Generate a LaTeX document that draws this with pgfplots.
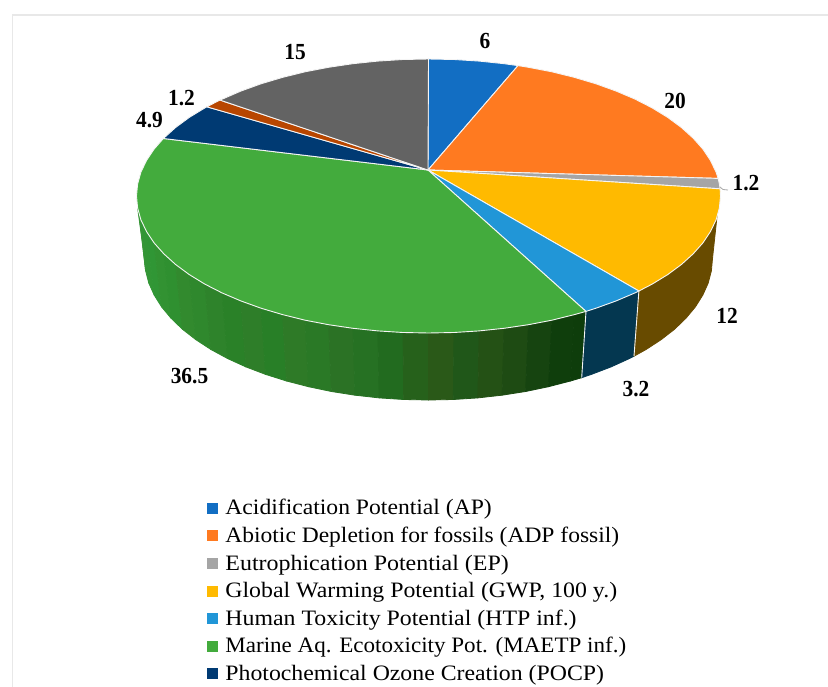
\documentclass[border=0pt]{standalone}
\usepackage{graphicx}
\usepackage{pgfplots}
\pgfplotsset{compat=1.18}
\usepackage{fontspec}
\setmainfont{Liberation Serif}
\newfontfamily\lab[FakeStretch=0.93]{Liberation Serif}
\newfontfamily\leg[FakeStretch=1.05]{Liberation Serif}
\definecolor{cAP}{RGB}{18,110,195}
\definecolor{cADP}{RGB}{255,122,32}
\definecolor{cEP}{RGB}{165,165,165}
\definecolor{cGWP}{RGB}{255,186,0}
\definecolor{cHTP}{RGB}{33,150,215}
\definecolor{cMAE}{RGB}{67,171,61}
\definecolor{cPOC}{RGB}{0,58,115}
\definecolor{cBRN}{RGB}{184,70,0}
\definecolor{cGRY}{RGB}{99,99,99}
\definecolor{cEDGE}{RGB}{245,245,245}
\newcommand\wall[4]{\addplot[fill={rgb,255:red,#1;green,#2;blue,#3},draw={rgb,255:red,#1;green,#2;blue,#3},line width=0.8pt,line join=round,forget plot] coordinates {#4} --cycle;}
\newcommand\slice[2]{\addplot[fill=#1,draw=cEDGE,line width=0.9pt,line join=round,forget plot] coordinates {#2} --cycle;}
\tikzset{vlab/.style={font=\fontsize{23}{23}\bfseries\lab,anchor=center}}
\begin{document}
\begin{tikzpicture}
\useasboundingbox (0,0) rectangle (828pt,687pt);
\begin{axis}[
  at={(0,0)},anchor=south west,
  width=828pt,height=687pt,scale only axis,
  xmin=0,xmax=828,ymin=0,ymax=687,y dir=reverse,
  hide axis,
  legend cell align=left,
  legend image code/.code={\fill[#1] (0pt,2pt) rectangle (10pt,12pt);\path (18.3pt,0pt);},
  legend style={at={(axis cs:206.7,498.4)},anchor=north west,draw=none,fill=none,
    font=\fontsize{22}{22}\leg,inner sep=0pt,outer sep=0pt,row sep=0pt,column sep=0pt,
    nodes={inner sep=0pt,outer sep=0pt,text height=16.5pt,text depth=11.1pt,anchor=base west}},
]
% frame
\addplot[draw={rgb,255:red,232;green,232;blue,232},line width=1.5pt,forget plot] coordinates {(12.5,687)(12.5,15)(828,15)};
% side walls
\wall{58}{150}{58}{(137.6,207.9)(139,214)(145.6,270.8)(144.5,258.5)}
\wall{54}{149}{55}{(139,214)(140.9,219.8)(148.8,283.1)(145.6,270.8)}
\wall{50}{150}{53}{(140.9,219.8)(146.5,231.5)(154.2,295.1)(148.8,283.1)}
\wall{48}{150}{53}{(146.5,231.5)(154.1,242.9)(161.6,306.9)(154.2,295.1)}
\wall{50}{146}{50}{(154.1,242.9)(163.9,253.9)(171.1,318.3)(161.6,306.9)}
\wall{47}{144}{48}{(163.9,253.9)(175.6,264.5)(182.5,329.3)(171.1,318.3)}
\wall{50}{138}{46}{(175.6,264.5)(189.3,274.6)(195.9,339.7)(182.5,329.3)}
\wall{47}{136}{45}{(189.3,274.6)(204.8,284.1)(210.9,349.5)(195.9,339.7)}
\wall{46}{131}{43}{(204.8,284.1)(222,292.9)(227.7,358.6)(210.9,349.5)}
\wall{42}{129}{40}{(222,292.9)(240.8,300.9)(245.9,366.9)(227.7,358.6)}
\wall{46}{126}{41}{(240.8,300.9)(261,308.2)(265.6,374.4)(245.9,366.9)}
\wall{40}{127}{39}{(261,308.2)(282.5,314.6)(286.5,381)(265.6,374.4)}
\wall{46}{122}{39}{(282.5,314.6)(305.1,320.2)(308.5,386.7)(286.5,381)}
\wall{42}{121}{38}{(305.1,320.2)(328.6,324.7)(331.4,391.5)(308.5,386.7)}
\wall{43}{114}{37}{(328.6,324.7)(352.9,328.3)(355,395.2)(331.4,391.5)}
\wall{38}{113}{35}{(352.9,328.3)(377.8,330.9)(379.2,397.9)(355,395.2)}
\wall{34}{107}{31}{(377.8,330.9)(403,332.5)(403.7,399.5)(379.2,397.9)}
\wall{38}{97}{27}{(403,332.5)(428.5,333)(428.5,400)(403.7,399.5)}
\wall{42}{89}{24}{(428.5,333)(454,332.5)(453.3,399.5)(428.5,400)}
\wall{32}{87}{25}{(454,332.5)(479.2,330.9)(477.8,397.9)(453.3,399.5)}
\wall{36}{81}{21}{(479.2,330.9)(504.1,328.3)(502,395.2)(477.8,397.9)}
\wall{30}{75}{19}{(504.1,328.3)(528.4,324.7)(525.6,391.5)(502,395.2)}
\wall{22}{68}{16}{(528.4,324.7)(551.9,320.2)(548.5,386.7)(525.6,391.5)}
\wall{15}{62}{12}{(551.9,320.2)(574.5,314.6)(570.5,381)(548.5,386.7)}
\wall{14}{61}{11}{(574.5,314.6)(586,311.4)(581.7,377.7)(570.5,381)}
% HTP wall
\wall{4}{55}{80}{(586,311.4)(596,308.2)(616.2,300.9)(635,292.9)(638.9,291)(634,356.2)(629.3,358.6)(611.1,366.9)(591.4,374.4)(581.7,377.7)}
% GWP wall
\wall{104}{75}{0}{(638.9,291)(652.2,284.1)(667.7,274.6)(681.4,264.5)(693.1,253.9)(702.9,242.9)(710.5,231.5)(716.1,219.8)(717.5,212)(712.5,258.5)(711.4,270.8)(708.2,283.1)(702.8,295.1)(695.4,306.9)(685.9,318.3)(674.5,329.3)(661.1,339.7)(646.1,349.5)(634,356.2)}
% wall dividers
\addplot[draw=cEDGE,line width=0.9pt,forget plot] coordinates {(638.9,291)(634,356.2)};
\addplot[draw=cEDGE,line width=0.9pt,forget plot] coordinates {(586,311.4)(581.7,377.7)};
% top slices
\slice{cAP}{(428,170)(428.5,59)(454,59.5)(479.2,61.1)(504.1,63.7)(518,65.6)}
\slice{cADP}{(428,170)(518,65.6)(528.4,67.3)(551.9,71.8)(574.5,77.4)(596,83.8)(616.2,91.1)(635,99.1)(652.2,107.9)(667.7,117.4)(681.4,127.5)(693.1,138.1)(702.9,149.1)(710.5,160.5)(716.1,172.2)(718.1,178.4)}
\slice{cEP}{(428,170)(718.1,178.4)(719.4,184.1)(720.1,188.8)}
\slice{cGWP}{(428,170)(720.1,188.8)(720.5,196)(719.4,207.9)(716.1,219.8)(710.5,231.5)(702.9,242.9)(693.1,253.9)(681.4,264.5)(667.7,274.6)(652.2,284.1)(638.9,291)}
\slice{cHTP}{(428,170)(638.9,291)(635,292.9)(616.2,300.9)(596,308.2)(586,311.4)}
\slice{cMAE}{(428,170)(586,311.4)(574.5,314.6)(551.9,320.2)(528.4,324.7)(504.1,328.3)(479.2,330.9)(454,332.5)(428.5,333)(403,332.5)(377.8,330.9)(352.9,328.3)(328.6,324.7)(305.1,320.2)(282.5,314.6)(261,308.2)(240.8,300.9)(222,292.9)(204.8,284.1)(189.3,274.6)(175.6,264.5)(163.9,253.9)(154.1,242.9)(146.5,231.5)(140.9,219.8)(137.6,207.9)(136.5,196)(137.6,184.1)(140.9,172.2)(146.5,160.5)(154.1,149.1)(163.4,138.5)}
\slice{cPOC}{(428,170)(163.4,138.5)(175.6,127.5)(189.3,117.4)(206.7,106.8)}
\slice{cBRN}{(428,170)(206.7,106.8)(220,100.1)}
\slice{cGRY}{(428,170)(220,100.1)(240.8,91.1)(261,83.8)(282.5,77.4)(305.1,71.8)(328.6,67.3)(352.9,63.7)(377.8,61.1)(403,59.5)(428.5,59)}
% leader line of 1.2
\addplot[draw={rgb,255:red,170;green,170;blue,170},line width=0.8pt,forget plot] coordinates {(720,187)(723,189.5)(728,190)};
% value labels
\node[vlab] at (axis cs:485,41) {6};
\node[vlab] at (axis cs:675,100.5) {20};
\node[vlab] at (axis cs:746,183.5) {1.2};
\node[vlab] at (axis cs:727,315.5) {12};
\node[vlab] at (axis cs:636,389) {3.2};
\node[vlab] at (axis cs:189.5,376) {36.5};
\node[vlab] at (axis cs:149.5,120.5) {4.9};
\node[vlab] at (axis cs:181.5,98) {1.2};
\node[vlab] at (axis cs:295,52) {15};
% legend
\addlegendimage{cAP}\addlegendentry{\scalebox{1.023}[1]{Acidification Potential (AP)}}
\addlegendimage{cADP}\addlegendentry{\scalebox{1.018}[1]{Abiotic Depletion for fossils (ADP fossil)}}
\addlegendimage{cEP}\addlegendentry{\scalebox{1.037}[1]{Eutrophication Potential (EP)}}
\addlegendimage{cGWP}\addlegendentry{\scalebox{1.032}[1]{Global Warming Potential (GWP, 100 y.)}}
\addlegendimage{cHTP}\addlegendentry{\scalebox{1.032}[1]{Human Toxicity Potential (HTP inf.)}}
\addlegendimage{cMAE}\addlegendentry{\scalebox{0.998}[1]{Marine Aq. Ecotoxicity Pot. (MAETP inf.)}}
\addlegendimage{cPOC}\addlegendentry{\scalebox{1.03}[1]{Photochemical Ozone Creation (POCP)}}
\end{axis}
\end{tikzpicture}
\end{document}
